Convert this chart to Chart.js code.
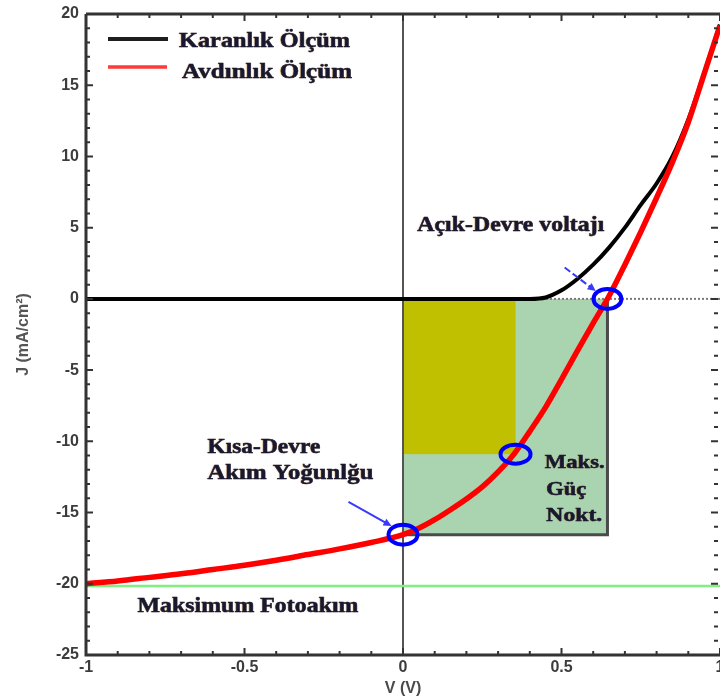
<!DOCTYPE html>
<html>
<head>
<meta charset="utf-8">
<script src="https://cdn.jsdelivr.net/npm/chart.js@4.4.1/dist/chart.umd.min.js"></script>
<style>
  html, body { margin: 0; padding: 0; background: #ffffff; }
  canvas { display: block; }
</style>
</head>
<body>
<canvas id="jv" width="720" height="699"></canvas>
<script>
// Applied voltage (V)
const voltage = [-1, -0.9, -0.8, -0.7, -0.6, -0.5, -0.4, -0.3, -0.2, -0.1,
  0, 0.05, 0.1, 0.15, 0.2, 0.25, 0.3, 0.35, 0.4, 0.45, 0.5, 0.55, 0.6,
  0.65, 0.7, 0.75, 0.8, 0.85, 0.9, 0.95, 1.0];

// Current density under illumination (mA/cm²)
const jLight = [-20.0, -19.8, -19.55, -19.3, -19.0, -18.7, -18.35, -17.95, -17.55, -17.1,
  -16.55, -16.1, -15.5, -14.8, -14.05, -13.2, -12.15, -10.9, -9.3, -7.6, -5.65, -3.65, -1.7,
  0.2, 2.4, 4.7, 7.1, 9.6, 12.4, 15.8, 19.2];

// Current density in the dark (mA/cm²)
const jDark = [0, 0, 0, 0, 0, 0, 0, 0, 0, 0,
  0, 0, 0, 0, 0, 0, 0, 0, 0, 0.1, 0.6, 1.4, 2.4,
  3.6, 5.0, 6.6, 8.1, 10.0, 12.6, 15.85, 19.25];

// Characteristic points
const photoLimit = -20.15;   // maximum photocurrent
const vOC = 0.645;           // open-circuit voltage
const jSC = -16.55;          // short-circuit current density
const vMP = 0.355;           // maximum power point voltage
const jMP = -10.9;           // maximum power point current density

// Axis tick labels
const xTicks = [-1, -0.5, 0, 0.5, 1];
const yTicks = [-25, -20, -15, -10, -5, 0, 5, 10, 15, 20];

const seriesNames = ['Karanlık Ölçüm', 'Avdınlık Ölçüm'];

const notes = [
  { text: 'Açık-Devre voltajı', v: 0.340, j: 5.15, w: 187, size: 22, align: 'center' },
  { text: 'Kısa-Devre', v: -0.617, j: -10.4, w: 113, size: 22, align: 'left' },
  { text: 'Akım Yoğunlğu', v: -0.617, j: -12.25, w: 166, size: 22, align: 'left' },
  { text: 'Maks.', v: 0.447, j: -11.5, w: 60, size: 19, align: 'left' },
  { text: 'Güç', v: 0.452, j: -13.4, w: 40, size: 19, align: 'left' },
  { text: 'Nokt.', v: 0.452, j: -15.25, w: 56, size: 19, align: 'left' },
  { text: 'Maksimum Fotoakım', v: -0.489, j: -21.6, w: 221, size: 22, align: 'center' }
];

// Arrows pointing at the marked points (tail -> head, data units)
const arrows = [
  { from: [-0.172, -14.25], to: [-0.036, -15.95], dashed: false },
  { from: [0.510, 2.2], to: [0.608, 0.55], dashed: true }
];

const toPts = (ys) => voltage.map((v, i) => ({ x: v, y: ys[i] }));

function serifText(ctx, text, x, y, width, size, align) {
  ctx.save();
  ctx.font = 'bold ' + size + 'px "Liberation Serif", "Times New Roman", serif';
  const w = ctx.measureText(text).width;
  ctx.translate(x, y);
  ctx.scale(width / w, 1);
  ctx.textAlign = align;
  ctx.textBaseline = 'middle';
  ctx.shadowColor = 'rgba(200,130,40,0.6)';
  ctx.shadowBlur = 1.2;
  ctx.shadowOffsetX = -0.8;
  ctx.fillStyle = '#181830';
  ctx.strokeStyle = '#181830';
  ctx.lineWidth = 0.5;
  ctx.fillText(text, 0, 0);
  ctx.shadowColor = 'transparent';
  ctx.strokeText(text, 0, 0);
  ctx.restore();
}

function arrow(ctx, x1, y1, x2, y2, dashed) {
  ctx.save();
  ctx.strokeStyle = '#3a3aff';
  ctx.fillStyle = '#3a3aff';
  ctx.lineWidth = 2;
  if (dashed) ctx.setLineDash([7, 3]);
  const a = Math.atan2(y2 - y1, x2 - x1);
  const hx = x2 - 7 * Math.cos(a), hy = y2 - 7 * Math.sin(a);
  ctx.beginPath(); ctx.moveTo(x1, y1); ctx.lineTo(hx, hy); ctx.stroke();
  ctx.setLineDash([]);
  ctx.beginPath();
  ctx.moveTo(x2, y2);
  ctx.lineTo(x2 - 9 * Math.cos(a - 0.45), y2 - 9 * Math.sin(a - 0.45));
  ctx.lineTo(x2 - 9 * Math.cos(a + 0.45), y2 - 9 * Math.sin(a + 0.45));
  ctx.closePath(); ctx.fill();
  ctx.restore();
}

// Power rectangles and the V = 0 axis line, under the curves
const backdrop = {
  id: 'backdrop',
  beforeDatasetsDraw(chart) {
    const { ctx, scales: { x, y }, chartArea: ca } = chart;
    const x0 = x.getPixelForValue(0), y0 = y.getPixelForValue(0);
    const xoc = x.getPixelForValue(vOC), ysc = y.getPixelForValue(jSC);
    const xmp = x.getPixelForValue(vMP), ymp = y.getPixelForValue(jMP);
    ctx.save();
    ctx.fillStyle = '#aad4b0';
    ctx.fillRect(x0, y0, xoc - x0, ysc - y0);
    ctx.fillStyle = '#c0c000';
    ctx.fillRect(x0, y0, xmp - x0, ymp - y0);
    ctx.strokeStyle = '#4a4a4a';
    ctx.lineWidth = 3;
    ctx.beginPath();
    ctx.moveTo(xoc, y0 + 2); ctx.lineTo(xoc, ysc); ctx.lineTo(x0, ysc);
    ctx.stroke();
    ctx.strokeStyle = '#555555';
    ctx.lineWidth = 2;
    ctx.beginPath();
    ctx.moveTo(x0, ca.top); ctx.lineTo(x0, ca.bottom);
    ctx.stroke();
    ctx.restore();
  }
};

// Markers, arrows, labels, legend and the boxed axes with inward ticks
const overlay = {
  id: 'overlay',
  afterDatasetsDraw(chart) {
    const { ctx, scales: { x, y }, chartArea: ca } = chart;
    ctx.save();
    // circled points
    ctx.strokeStyle = '#0000ff';
    ctx.lineWidth = 4;
    [[0, jSC, 14.5, 10], [vMP, jMP, 15, 9.5], [vOC, 0, 14, 10]].forEach(([v, j, rx, ry]) => {
      ctx.beginPath();
      ctx.ellipse(x.getPixelForValue(v), y.getPixelForValue(j), rx, ry, 0, 0, Math.PI * 2);
      ctx.stroke();
    });
    arrows.forEach(a => arrow(ctx,
      x.getPixelForValue(a.from[0]), y.getPixelForValue(a.from[1]),
      x.getPixelForValue(a.to[0]), y.getPixelForValue(a.to[1]), a.dashed));

    notes.forEach(n => serifText(ctx, n.text, x.getPixelForValue(n.v), y.getPixelForValue(n.j), n.w, n.size, n.align));

    // legend
    const lx = ca.left + 22;
    ctx.lineWidth = 4;
    ctx.strokeStyle = '#1e1e1e';
    ctx.beginPath(); ctx.moveTo(lx, ca.top + 25); ctx.lineTo(lx + 60, ca.top + 25); ctx.stroke();
    ctx.lineWidth = 3.5;
    ctx.strokeStyle = '#ff3a3a';
    ctx.beginPath(); ctx.moveTo(lx, ca.top + 53); ctx.lineTo(lx + 59, ca.top + 53); ctx.stroke();
    serifText(ctx, seriesNames[0], lx + 71, ca.top + 27, 171, 22, 'left');
    serifText(ctx, seriesNames[1], lx + 74, ca.top + 58, 170, 22, 'left');

    // frame
    ctx.strokeStyle = '#333333';
    ctx.lineWidth = 3;
    ctx.beginPath();
    ctx.moveTo(ca.left, ca.top); ctx.lineTo(ca.left, ca.bottom); ctx.lineTo(ca.right, ca.bottom);
    ctx.moveTo(ca.left, ca.top); ctx.lineTo(ca.right, ca.top);
    ctx.stroke();

    // inward ticks
    ctx.strokeStyle = '#333333';
    ctx.lineWidth = 2;
    ctx.beginPath();
    for (let k = -10; k <= 10; k++) {
      const px = x.getPixelForValue(k / 10);
      const len = (k % 5 === 0) ? 7 : 4;
      ctx.moveTo(px, ca.bottom); ctx.lineTo(px, ca.bottom - len);
      ctx.moveTo(px, ca.top); ctx.lineTo(px, ca.top + len);
    }
    for (let k = -25; k <= 20; k++) {
      const py = y.getPixelForValue(k);
      const len = (k % 5 === 0) ? 7 : 4;
      ctx.moveTo(ca.left, py); ctx.lineTo(ca.left + len, py);
      ctx.moveTo(ca.right - 2, py); ctx.lineTo(ca.right - 2 - len, py);
    }
    ctx.stroke();
    ctx.restore();
  }
};

const tickFont = { family: '"Liberation Sans", Arial, sans-serif', weight: 'bold', size: 16 };

new Chart(document.getElementById('jv'), {
  type: 'scatter',
  data: {
    datasets: [
      { label: seriesNames[1], data: toPts(jLight), showLine: true, borderColor: '#ff0000',
        borderWidth: 5.5, pointRadius: 0, cubicInterpolationMode: 'monotone' },
      { label: seriesNames[0], data: toPts(jDark), showLine: true, borderColor: '#000000',
        borderWidth: 4, pointRadius: 0, cubicInterpolationMode: 'monotone' },
      { label: 'Maksimum Fotoakım', data: [{ x: -1, y: photoLimit }, { x: 1, y: photoLimit }],
        showLine: true, borderColor: '#80f080', borderWidth: 2.5, pointRadius: 0 },
      { label: 'J = 0', data: [{ x: -1, y: 0 }, { x: 1, y: 0 }], showLine: true,
        borderColor: '#7a7a7a', borderDash: [2, 2], borderWidth: 2, pointRadius: 0 }
    ]
  },
  options: {
    responsive: false,
    animation: false,
    devicePixelRatio: 1,
    layout: { padding: { top: 14, right: 0, left: 0, bottom: 0 } },
    plugins: { legend: { display: false }, tooltip: { enabled: false } },
    scales: {
      x: {
        type: 'linear', min: -1, max: 1,
        afterBuildTicks: s => { s.ticks = xTicks.map(v => ({ value: v })); },
        afterFit: s => { s.height = 44; s.paddingLeft = 0; s.paddingRight = 0; },
        ticks: { font: tickFont, color: '#3c3c3c', padding: 3, autoSkip: false, maxRotation: 0,
          callback: v => String(v) },
        grid: { display: false, drawTicks: false },
        border: { display: false },
        title: { display: true, text: 'V (V)', color: '#4a4a4a',
          font: { family: '"Liberation Sans", Arial, sans-serif', weight: 'bold', size: 16 },
          padding: { top: 0, bottom: 1 } }
      },
      y: {
        type: 'linear', min: -25, max: 20,
        afterBuildTicks: s => { s.ticks = yTicks.map(v => ({ value: v })); },
        afterFit: s => { s.width = 86; s.paddingTop = 0; s.paddingBottom = 0; },
        ticks: { font: tickFont, color: '#3c3c3c', padding: 7, autoSkip: false },
        grid: { display: false, drawTicks: false },
        border: { display: false },
        title: { display: true, text: 'J (mA/cm²)', color: '#555555',
          font: { family: '"Liberation Sans", Arial, sans-serif', weight: 'bold', size: 16 },
          padding: { top: 14, bottom: 0 } }
      }
    }
  },
  plugins: [backdrop, overlay]
});
</script>
</body>
</html>
